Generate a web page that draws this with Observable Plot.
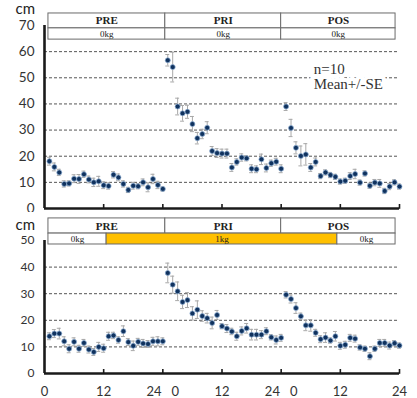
<!DOCTYPE html>
<html>
<head>
<meta charset="utf-8">
<script src="https://cdn.jsdelivr.net/npm/d3@7"></script>
<script src="https://cdn.jsdelivr.net/npm/@observablehq/plot@0.6"></script>
<style>
  html, body { margin: 0; padding: 0; background: #fff; }
  #chart { position: relative; width: 417px; height: 398px; overflow: hidden; }
  #chart svg { position: absolute; left: 0; }
</style>
</head>
<body>
<div id="chart"></div>
<script>
// ---------- data ----------
const phases = ["PRE", "PRI", "POS"];
const phaseBounds = [0.8, 24.5, 48, 71.2];          // hours (table columns)
const topLoads = ["0kg", "0kg", "0kg"];
const topLoadBounds = [0.8, 24.5, 48, 71.2];
const bottomLoads = ["0kg", "1kg", "0kg"];
const bottomLoadBounds = [0.8, 12.6, 59.4, 71.2];
const xTicks = [0, 12, 24, 36, 48, 60, 72];
const xTickLabels = ["0", "12", "24\u00a0\u00a0\u00a00", "12", "24\u00a0\u00a0\u00a00", "12", "24"];
const topYTicks = [0, 10, 20, 30, 40, 50, 60, 70];
const topGrid = [10, 20, 30, 40, 50, 60];
const bottomYTicks = [0, 10, 20, 30, 40, 50];
const bottomGrid = [10, 20, 30, 40];

// top panel (0 kg throughout), hourly means, cm
const topPre = [18.1, 15.9, 13.8, 9.4, 9.6, 11.4, 11.3, 13.1, 11.1, 10.0, 10.4, 8.9,
                8.6, 12.9, 11.9, 9.4, 7.1, 8.7, 8.5, 10.0, 8.1, 11.3, 9.0, 7.5];
const topPri = [56.7, 54.1, 39.0, 36.4, 37.0, 32.3, 26.9, 28.5, 30.9, 22.0, 21.2, 21.0,
                21.0, 15.7, 17.8, 19.5, 19.2, 15.2, 15.0, 18.8, 15.5, 17.3, 17.9, 15.2];
const topPos = [39.0, 30.8, 23.2, 20.1, 20.7, 15.7, 17.8, 12.4, 13.8, 12.8, 12.1, 10.3,
                10.6, 12.4, 13.2, 9.9, 13.4, 8.7, 9.9, 9.6, 6.7, 8.4, 10.0, 8.4];
const topPreSE = [1.5, 1.5, 1.2, 1.2, 1.0, 1.5, 1.7, 1.2, 1.3, 1.6, 1.9, 1.3,
                  1.2, 1.2, 1.3, 1.2, 1.0, 1.3, 1.0, 1.3, 1.7, 1.8, 1.4, 0.8];
const topPriSE = [2.2, 5.7, 3.2, 3.0, 2.5, 2.9, 2.2, 1.8, 2.3, 1.7, 1.7, 1.7,
                  1.7, 1.5, 1.2, 1.4, 1.0, 1.5, 1.3, 2.0, 1.5, 1.2, 1.3, 1.5];
const topPosSE = [1.5, 3.3, 2.3, 3.8, 4.1, 1.5, 1.5, 1.0, 1.0, 1.0, 1.0, 1.0,
                  1.0, 1.3, 1.8, 1.0, 1.0, 1.0, 1.2, 1.5, 1.0, 1.2, 1.0, 1.0];

// bottom panel (1 kg load during part of PRE..POS), hourly means, cm
const botPre = [14.0, 15.0, 15.0, 12.1, 9.3, 11.9, 9.3, 11.5, 9.0, 8.1, 10.0, 9.5,
                14.0, 14.3, 12.6, 15.9, 11.8, 10.4, 11.9, 11.3, 11.1, 12.1, 12.1, 12.1];
const botPri = [37.8, 33.4, 30.9, 26.9, 27.6, 22.6, 24.0, 21.6, 20.8, 19.0, 22.0, 17.8,
                16.9, 15.8, 14.0, 16.0, 17.0, 14.6, 14.6, 14.6, 15.9, 13.6, 12.6, 13.4];
const botPos = [29.6, 28.0, 24.6, 21.5, 18.1, 18.1, 15.3, 12.9, 13.5, 12.4, 14.0, 10.4,
                10.8, 13.4, 13.1, 9.8, 9.3, 6.5, 9.3, 11.5, 11.5, 10.5, 11.4, 10.5];
const botPreSE = [1.3, 1.5, 2.0, 1.7, 1.5, 1.5, 1.3, 1.3, 1.3, 1.3, 1.7, 1.5,
                  1.5, 1.2, 1.2, 2.0, 1.3, 1.8, 1.3, 1.5, 1.3, 1.5, 1.7, 1.3];
const botPriSE = [3.7, 3.2, 3.5, 2.5, 2.8, 2.5, 3.3, 2.0, 1.8, 2.2, 1.7, 1.0,
                  1.5, 1.2, 1.5, 1.5, 1.8, 2.0, 2.0, 1.5, 1.3, 1.0, 1.5, 1.3];
const botPosSE = [1.2, 1.5, 2.0, 1.2, 2.0, 2.2, 1.3, 1.3, 1.8, 1.0, 1.8, 1.3,
                  1.3, 1.3, 1.3, 1.0, 1.0, 1.3, 1.0, 1.3, 1.3, 1.3, 1.0, 1.0];

// ---------- helpers ----------
function series(pre, pri, pos, preSE, priSE, posSE) {
  const v = [...pre, ...pri, ...pos];
  const e = [...preSE, ...priSE, ...posSE];
  return v.map((y, i) => ({x: i + 1, y, se: e[i]}));
}
const topData = series(topPre, topPri, topPos, topPreSE, topPriSE, topPosSE);
const botData = series(botPre, botPri, botPos, botPreSE, botPriSE, botPosSE);

const POINT = "#10325e";
const ERR = "#a8a8a8";
const GRID = "#555";
const AXIS = "#1a1a1a";
const SANS = "Lato, 'Open Sans', sans-serif";
const SERIF = "'Liberation Serif', 'DejaVu Serif', serif";

function header(labels, bounds, rowTop, rowBottom, fills, opts) {
  const rows = labels.map((l, i) => ({label: l, x1: bounds[i], x2: bounds[i + 1], fill: fills ? fills[i] : "white"}));
  return [
    Plot.rect(rows, {x1: "x1", x2: "x2", y1: rowBottom, y2: rowTop, fill: "fill", stroke: "#6a6a6a", strokeWidth: 1}),
    Plot.text(rows, {x: d => (d.x1 + d.x2) / 2, y: (rowTop + rowBottom) / 2, text: "label",
      fontFamily: SERIF, fill: "#222", ...opts})
  ];
}

function panel({data, yMax, grid, yTicks, height, marginTop, marginBottom, headers, showXLabels, yFont, cmDy, extra}) {
  const tickLen = 4 * yMax / (height - marginTop - marginBottom);
  return Plot.plot({
    width: 417, height,
    marginLeft: 44, marginRight: 18, marginTop, marginBottom,
    x: {domain: [0, 72], axis: null},
    y: {domain: [0, yMax], axis: null},
    style: {fontFamily: SANS, background: "white", overflow: "visible"},
    marks: [
      Plot.ruleY(grid, {stroke: GRID, strokeDasharray: "3,2", strokeWidth: 1}),
      ...(extra || []),
      ...headers,
      Plot.axisY({ticks: yTicks, label: null, tickSize: 0, tickPadding: 10, fontSize: yFont, fill: "#333",
        tickFormat: d => String(d)}),
      Plot.text(["cm"], {frameAnchor: "top-left", dx: -29, dy: cmDy, textAnchor: "start",
        lineAnchor: "middle", fontSize: 15, fill: "#222"}),
      Plot.ruleX(xTicks.slice(1), {y1: -tickLen * 0.2, y2: tickLen, stroke: AXIS, strokeWidth: 1.6}),
      Plot.ruleY([0], {stroke: AXIS, strokeWidth: 2.6}),
      Plot.ruleX([0], {y1: 0, y2: yMax, stroke: AXIS, strokeWidth: 2.6}),
      ...(showXLabels ? [Plot.axisX({ticks: xTicks, label: null, tickSize: 0, tickPadding: 13, fontSize: 13, fill: "#333",
        tickFormat: d => xTickLabels[xTicks.indexOf(d)]})] : []),
      Plot.ruleX(data, {x: "x", y1: d => d.y - d.se, y2: d => d.y + d.se, stroke: ERR, strokeWidth: 1}),
      Plot.ruleY(data, {y: d => d.y + d.se, x1: d => d.x - 0.4, x2: d => d.x + 0.4, stroke: ERR, strokeWidth: 1}),
      Plot.ruleY(data, {y: d => d.y - d.se, x1: d => d.x - 0.4, x2: d => d.x + 0.4, stroke: ERR, strokeWidth: 1}),
      Plot.dot(data, {x: "x", y: "y", r: 2.5, fill: POINT, stroke: "#8fb0d6", strokeWidth: 0.7})
    ]
  });
}

// top panel: 0 at y=208, 70 at y=25
const topPanel = panel({
  data: topData, yMax: 70, grid: topGrid, yTicks: topYTicks,
  height: 212, marginTop: 25, marginBottom: 4, yFont: 13.5, showXLabels: false, cmDy: -16,
  headers: [
    ...header(phases, phaseBounds, 74.6, 68.9, null, {fontSize: 11, fontWeight: "bold", letterSpacing: "1.2px"}),
    ...header(topLoads, topLoadBounds, 68.9, 64.6, null, {fontSize: 9})
  ],
  extra: [
    Plot.text(["n=10"], {x: 54.6, y: 53.2, textAnchor: "start", fontFamily: SERIF, fontSize: 15, fill: "#333",
      stroke: "white", strokeWidth: 8, lineAnchor: "middle"}),
    Plot.text(["Mean+/-SE"], {x: 54.6, y: 47.4, textAnchor: "start", fontFamily: SERIF, fontSize: 15, fill: "#333",
      stroke: "white", strokeWidth: 8, lineAnchor: "middle"})
  ]
});
topPanel.style.top = "0px";

// bottom panel: 0 at y=373, 50 at y=240 (svg placed at 212)
const bottomPanel = panel({
  data: botData, yMax: 50, grid: bottomGrid, yTicks: bottomYTicks,
  height: 186, marginTop: 28, marginBottom: 25, yFont: 12, showXLabels: true, cmDy: -15,
  headers: [
    ...header(phases, phaseBounds, 58.3, 52.6, null, {fontSize: 11, fontWeight: "bold", letterSpacing: "1.2px"}),
    ...header(bottomLoads, bottomLoadBounds, 52.6, 48.5, ["white", "#FFC000", "white"], {fontSize: 9})
  ]
});
bottomPanel.style.top = "212px";

const chart = document.getElementById("chart");
chart.appendChild(topPanel);
chart.appendChild(bottomPanel);
</script>
</body>
</html>
